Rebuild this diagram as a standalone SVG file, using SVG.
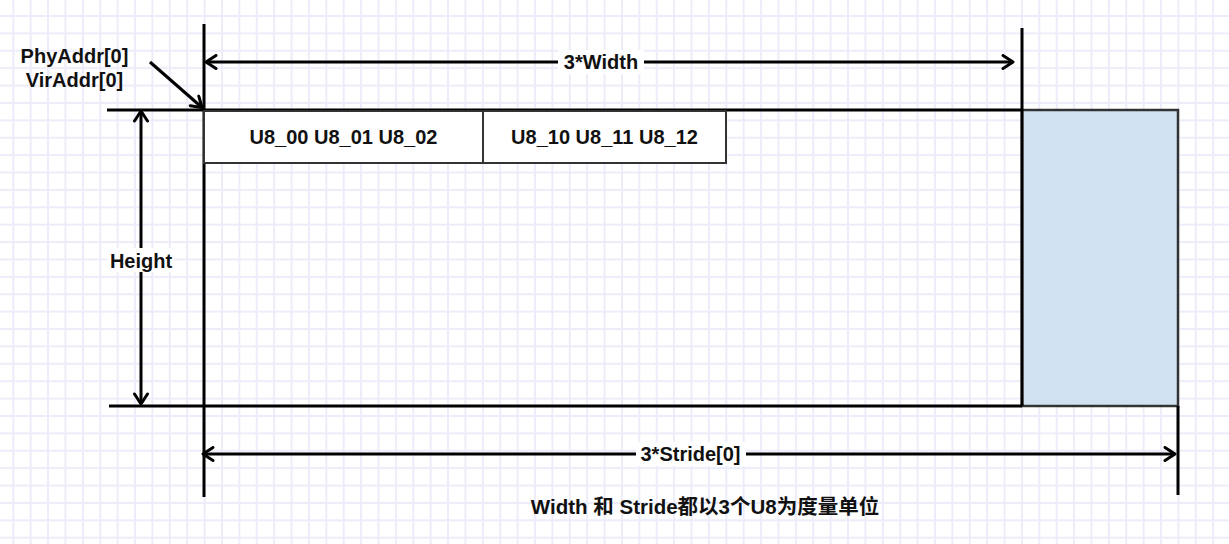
<svg xmlns="http://www.w3.org/2000/svg" width="1229" height="544" viewBox="0 0 1229 544">
  <style>
    .lbl { font-family: "Liberation Sans", Arial, "Noto Sans CJK SC", sans-serif; font-weight: bold; font-size: 20px; fill: #111; }
    .cap { font-size: 20.5px; }
    .line { stroke: #000; stroke-width: 3; fill: none; }
    .cell { fill: #fff; stroke: #333; stroke-width: 2; }
    .pad { fill: #fff; }
  </style>
  <defs>
    <pattern id="grid" patternUnits="userSpaceOnUse" x="4.6" y="7.3" width="17.39" height="17.39">
      <path d="M8.695 0V17.39M0 8.695H17.39" stroke="#ececfa" stroke-width="2" fill="none"/>
    </pattern>
    <marker id="arrow" viewBox="0 0 14 16" refX="12" refY="8" markerWidth="14" markerHeight="16" markerUnits="userSpaceOnUse" orient="auto-start-reverse">
      <path d="M2 1.5L12 8L2 14.5" fill="none" stroke="#000" stroke-width="3" stroke-linecap="round" stroke-linejoin="round"/>
    </marker>
  </defs>

  <!-- background grid -->
  <rect width="1229" height="544" fill="#fff"/>
  <rect width="1229" height="544" fill="url(#grid)"/>

  <!-- padding region beside the image rows -->
  <g id="stride-pad">
    <rect x="1022" y="110" width="156" height="296" fill="#d0e1f2" stroke="#333" stroke-width="2.5"/>
  </g>

  <!-- image frame edges -->
  <g id="frame">
    <line class="line" x1="107" y1="110" x2="1022" y2="110"/>
    <line class="line" x1="109" y1="406" x2="1022" y2="406"/>
    <line class="line" x1="204" y1="24" x2="204" y2="497"/>
    <line class="line" x1="1022" y1="28" x2="1022" y2="406"/>
    <line class="line" x1="1178" y1="406" x2="1178" y2="495"/>
  </g>

  <!-- first row samples -->
  <g id="cell-0">
    <rect class="cell" x="204" y="111" width="279" height="52"/>
    <text class="lbl" x="343.5" y="144" text-anchor="middle">U8_00 U8_01 U8_02</text>
  </g>
  <g id="cell-1">
    <rect class="cell" x="483" y="111" width="243" height="52"/>
    <text class="lbl" x="604.5" y="144" text-anchor="middle">U8_10 U8_11 U8_12</text>
  </g>

  <!-- dimension arrows -->
  <g id="connectors">
    <line class="line" x1="206" y1="62" x2="1013" y2="62" marker-start="url(#arrow)" marker-end="url(#arrow)"/>
    <line class="line" x1="141" y1="111" x2="141" y2="404" marker-start="url(#arrow)" marker-end="url(#arrow)"/>
    <line class="line" x1="203" y1="454" x2="1175" y2="454" marker-start="url(#arrow)" marker-end="url(#arrow)"/>
    <line class="line" x1="150" y1="62" x2="202" y2="107.5" marker-end="url(#arrow)"/>
  </g>

  <!-- dimension labels -->
  <g id="label-width">
    <rect class="pad" x="558" y="50" width="86" height="24"/>
    <text class="lbl" x="601" y="69" text-anchor="middle">3*Width</text>
  </g>
  <g id="label-height">
    <rect class="pad" x="108" y="248" width="66" height="24"/>
    <text class="lbl" x="141" y="268" text-anchor="middle">Height</text>
  </g>
  <g id="label-stride">
    <rect class="pad" x="636" y="442" width="110" height="24"/>
    <text class="lbl" x="690.5" y="461" text-anchor="middle">3*Stride[0]</text>
  </g>
  <g id="label-addr">
    <text class="lbl" x="74.5" y="62.5" text-anchor="middle">PhyAddr[0]</text>
    <text class="lbl" x="74.5" y="87" text-anchor="middle">VirAddr[0]</text>
  </g>
  <g id="caption">
    <text class="lbl cap" x="705" y="514" text-anchor="middle">Width 和 Stride都以3个U8为度量单位</text>
  </g>
</svg>
